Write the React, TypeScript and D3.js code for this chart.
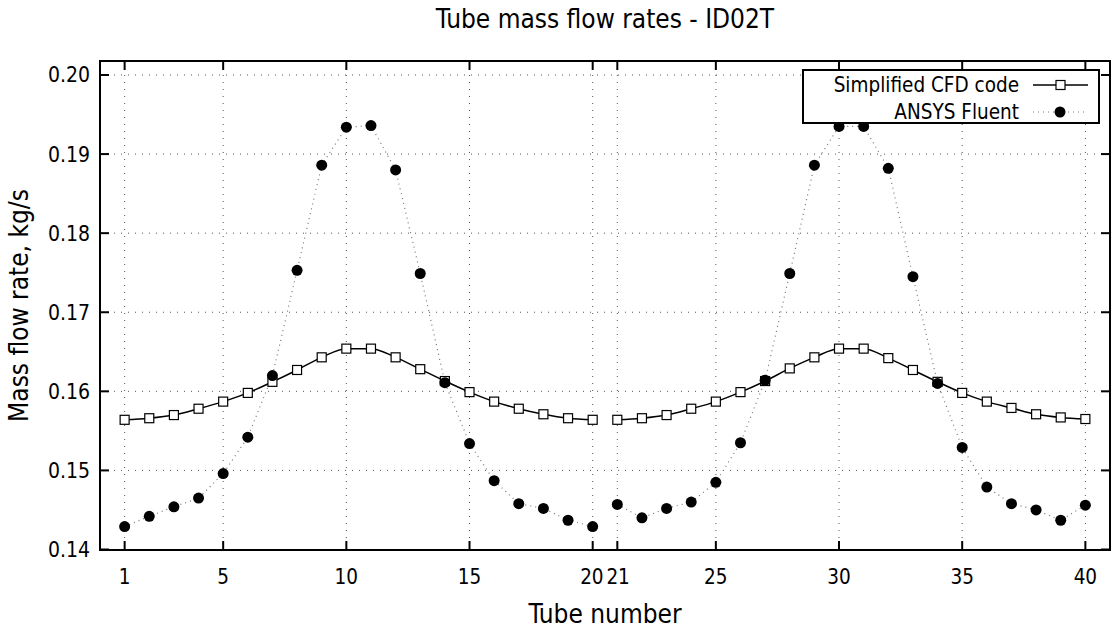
import React from "react";
import * as d3 from "d3";

const tubes = [1,2,3,4,5,6,7,8,9,10,11,12,13,14,15,16,17,18,19,20,21,22,23,24,25,26,27,28,29,30,31,32,33,34,35,36,37,38,39,40];
const cfd = [0.1564,0.1566,0.1570,0.1578,0.1587,0.1598,0.1612,0.1627,0.1643,0.1654,0.1654,0.1643,0.1628,0.1613,0.1599,0.1587,0.1578,0.1571,0.1566,0.1564,
  0.1564,0.1566,0.1570,0.1578,0.1587,0.1599,0.1613,0.1629,0.1643,0.1654,0.1654,0.1642,0.1627,0.1612,0.1598,0.1587,0.1579,0.1571,0.1567,0.1565];
const fluent = [0.1429,0.1442,0.1454,0.1465,0.1496,0.1542,0.1620,0.1753,0.1886,0.1934,0.1936,0.1880,0.1749,0.1611,0.1534,0.1487,0.1458,0.1452,0.1437,0.1429,
  0.1457,0.1440,0.1452,0.1460,0.1485,0.1535,0.1614,0.1749,0.1886,0.1935,0.1935,0.1882,0.1745,0.1610,0.1529,0.1479,0.1458,0.1450,0.1437,0.1456];
const xTicks = [1,5,10,15,20,21,25,30,35,40];
const yTicks = [0.14,0.15,0.16,0.17,0.18,0.19,0.20];
const segments = [[0,20],[20,40]];

const W = 1112, H = 634;
const L = 100, R = 1110, T = 61, B = 550;
const FONT = "'DejaVu Sans Condensed', 'DejaVu Sans', sans-serif";

export default function App() {
  const x = d3.scaleLinear().domain([0, 41]).range([L, R]);
  const y = d3.scaleLinear().domain([0.14, 0.20177]).range([B - 0.5, T]);
  const pts = (vals: number[], [a, b]: number[]) => tubes.slice(a, b).map((t, i) => [t, vals[a + i]] as [number, number]);
  const solid = d3.line<[number, number]>().x(d => x(d[0])).y(d => y(d[1])).curve(d3.curveMonotoneX);
  const lin = d3.line<[number, number]>().x(d => x(d[0])).y(d => y(d[1]));
  const tl = 9;
  return (
    <svg width={W} height={H} style={{ position: "absolute", left: 0, top: 0, background: "#fff" }} fontFamily={FONT}>
      <rect width={W} height={H} fill="#fff" />
      <text x={(L + R) / 2} y={28} textAnchor="middle" fontSize={26}>Tube mass flow rates - ID02T</text>
      {/* grid */}
      {xTicks.map(t => (
        <line key={"gx" + t} x1={x(t)} x2={x(t)} y1={T} y2={B} stroke="#555" strokeWidth={1} strokeDasharray="1,6" />
      ))}
      {yTicks.map(t => (
        <line key={"gy" + t} x1={L} x2={R} y1={y(t)} y2={y(t)} stroke="#555" strokeWidth={1} strokeDasharray="1,6" />
      ))}
      {/* ticks */}
      {xTicks.map(t => (
        <g key={"tx" + t}>
          <line x1={x(t)} x2={x(t)} y1={B} y2={B - tl} stroke="#000" strokeWidth={2} />
          <line x1={x(t)} x2={x(t)} y1={T} y2={T + tl} stroke="#000" strokeWidth={2} />
        </g>
      ))}
      {yTicks.map(t => (
        <g key={"ty" + t}>
          <line x1={L} x2={L + tl} y1={y(t)} y2={y(t)} stroke="#000" strokeWidth={2} />
          <line x1={R} x2={R - tl} y1={y(t)} y2={y(t)} stroke="#000" strokeWidth={2} />
        </g>
      ))}
      {/* tick labels */}
      {xTicks.map(t => (
        <text key={"lx" + t} x={x(t) + (t === 20 ? -0.8 : t === 21 ? 0.8 : 0)} y={584} textAnchor="middle" fontSize={20.5}>{t}</text>
      ))}
      {yTicks.map(t => (
        <text key={"ly" + t} x={90} y={y(t) + 7.5} textAnchor="end" fontSize={21}>{t.toFixed(2)}</text>
      ))}
      <text x={605} y={623} textAnchor="middle" fontSize={26}>Tube number</text>
      <text transform={`translate(28,${(T + B) / 2}) rotate(-90)`} textAnchor="middle" fontSize={26}>Mass flow rate, kg/s</text>
      {/* series */}
      {segments.map((s, i) => (
        <path key={"fl" + i} d={lin(pts(fluent, s)) || ""} fill="none" stroke="#777" strokeWidth={1.2} strokeDasharray="1,4" />
      ))}
      {segments.map((s, i) => (
        <path key={"cl" + i} d={solid(pts(cfd, s)) || ""} fill="none" stroke="#000" strokeWidth={1.5} />
      ))}
      {tubes.map((t, i) => (
        <rect key={"sq" + t} x={x(t) - 4.5} y={y(cfd[i]) - 4.5} width={9} height={9} fill="#fff" stroke="#000" strokeWidth={1.2} />
      ))}
      {tubes.map((t, i) => (
        <circle key={"ci" + t} cx={x(t)} cy={y(fluent[i])} r={5.5} fill="#000" />
      ))}
      {/* legend */}
      <rect x={803} y={70} width={296} height={53} fill="#fff" stroke="#000" strokeWidth={2} />
      <text x={1019} y={92} textAnchor="end" fontSize={20.5}>Simplified CFD code</text>
      <line x1={1033} x2={1088} y1={85} y2={85} stroke="#000" strokeWidth={1.5} />
      <rect x={1056} y={80.5} width={9} height={9} fill="#fff" stroke="#000" strokeWidth={1.2} />
      <text x={1019} y={119} textAnchor="end" fontSize={20.5}>ANSYS Fluent</text>
      <line x1={1033} x2={1088} y1={112} y2={112} stroke="#777" strokeWidth={1.2} strokeDasharray="1,4" />
      <circle cx={1060} cy={112} r={5.5} fill="#000" />
      {/* frame */}
      <rect x={L} y={T} width={R - L} height={B - T} fill="none" stroke="#000" strokeWidth={2} />
    </svg>
  );
}
